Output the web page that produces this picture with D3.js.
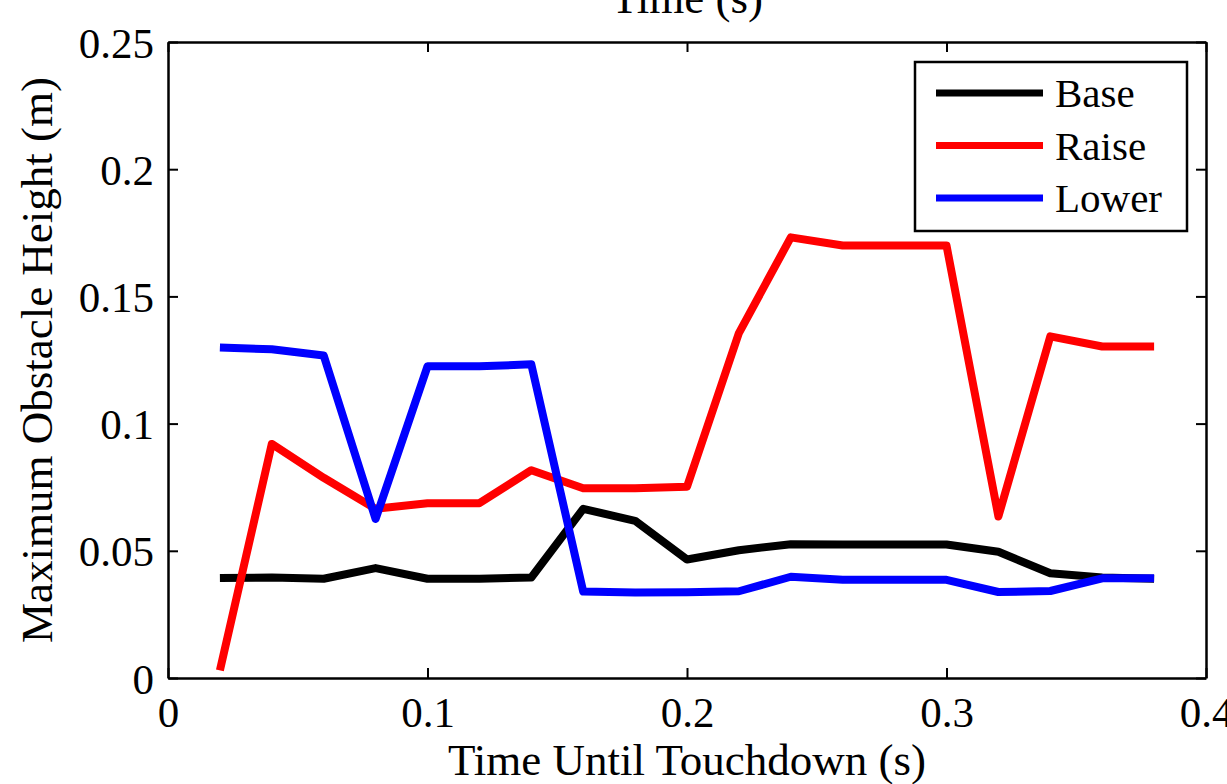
<!DOCTYPE html>
<html>
<head>
<meta charset="utf-8">
<script src="https://cdn.jsdelivr.net/npm/d3@7"></script>
<style>
  body { margin: 0; background: #fff; }
  svg { display: block; font-family: "Liberation Serif", "Times New Roman", serif; }
</style>
</head>
<body>
<div id="canvas"></div>
<script>
// data
const times = [0.02, 0.04, 0.06, 0.08, 0.10, 0.12, 0.14, 0.16, 0.18, 0.20,
               0.22, 0.24, 0.26, 0.28, 0.30, 0.32, 0.34, 0.36, 0.38];
const baseVals = [0.0393, 0.0395, 0.039, 0.0432, 0.039, 0.039, 0.0395, 0.0665, 0.0618, 0.0466,
                  0.0502, 0.0526, 0.0525, 0.0525, 0.0525, 0.0496, 0.0412, 0.0395, 0.039];
const raiseVals = [0.003, 0.092, 0.0787, 0.0665, 0.0687, 0.0687, 0.0817, 0.0746, 0.0746, 0.0752,
                   0.1356, 0.1732, 0.170, 0.170, 0.170, 0.0635, 0.1343, 0.1303, 0.1303];
const lowerVals = [0.1299, 0.1292, 0.1268, 0.0625, 0.1225, 0.1225, 0.1233, 0.034, 0.0336, 0.0337,
                   0.0341, 0.0398, 0.0386, 0.0386, 0.0386, 0.0338, 0.0342, 0.0392, 0.0392];
const seriesNames = ["Base", "Raise", "Lower"];
const seriesColors = ["#000000", "#ff0000", "#0000ff"];
const xTicks = [0, 0.1, 0.2, 0.3, 0.4];
const yTicks = [0, 0.05, 0.1, 0.15, 0.2, 0.25];

const width = 1227, height = 784;
const margin = { top: 42, left: 168, bottom: 106, right: 21 };
const iwidth = width - margin.left - margin.right;
const iheight = height - margin.top - margin.bottom;
const serif = '"Liberation Serif", "Times New Roman", serif';

const svg = d3.select("#canvas").append("svg")
  .attr("width", width)
  .attr("height", height);

const g = svg.append("g").attr("transform", `translate(${margin.left},${margin.top})`);

const x = d3.scaleLinear().domain([0, 0.4]).range([0, iwidth]);
const y = d3.scaleLinear().domain([0, 0.25]).range([iheight, 0]);

const fmt = d => d === 0 ? "0" : String(+d.toFixed(2));

// axes, ticks pointing inward, box closed on all sides
const axisStyle = sel => {
  sel.attr("font-family", serif);
  sel.select(".domain").attr("stroke", "#000").attr("stroke-width", 2.5);
  sel.selectAll(".tick line").attr("stroke", "#000").attr("stroke-width", 2);
  sel.selectAll(".tick text").attr("fill", "#000").style("font-size", "43px");
};

g.append("g")
  .attr("transform", `translate(0,${iheight})`)
  .call(d3.axisBottom(x).tickValues(xTicks).tickFormat(fmt).tickSizeInner(-10).tickSizeOuter(0).tickPadding(18))
  .call(axisStyle);

g.append("g")
  .call(d3.axisLeft(y).tickValues(yTicks).tickFormat(fmt).tickSizeInner(-10).tickSizeOuter(0).tickPadding(14))
  .call(axisStyle)
  .selectAll(".tick text").attr("dy", "0.35em");

g.append("g")
  .call(d3.axisTop(x).tickValues(xTicks).tickFormat("").tickSizeInner(-10).tickSizeOuter(0))
  .call(axisStyle);

g.append("g")
  .attr("transform", `translate(${iwidth},0)`)
  .call(d3.axisRight(y).tickValues(yTicks).tickFormat("").tickSizeInner(-10).tickSizeOuter(0))
  .call(axisStyle);

// lines
const allVals = [baseVals, raiseVals, lowerVals];
const line = d3.line()
  .x((d, i) => x(times[i]))
  .y(d => y(d));

allVals.forEach((vals, k) => {
  g.append("path")
    .datum(vals)
    .attr("fill", "none")
    .attr("stroke", seriesColors[k])
    .attr("stroke-width", 8)
    .attr("stroke-linejoin", "round")
    .attr("d", line);
});

// axis titles
svg.append("text")
  .attr("x", margin.left + iwidth / 2)
  .attr("y", 775)
  .attr("text-anchor", "middle")
  .style("font-size", "45px")
  .text("Time Until Touchdown (s)");

svg.append("text")
  .attr("transform", `translate(52,${margin.top + iheight / 2}) rotate(-90)`)
  .attr("text-anchor", "middle")
  .style("font-size", "45px")
  .text("Maximum Obstacle Height (m)");

svg.append("text")
  .attr("x", margin.left + iwidth / 2)
  .attr("y", 13)
  .attr("text-anchor", "middle")
  .style("font-size", "45px")
  .text("Time (s)");

// legend
const legend = svg.append("g").attr("transform", "translate(915,62)");
legend.append("rect")
  .attr("width", 272).attr("height", 169)
  .attr("fill", "#fff").attr("stroke", "#000").attr("stroke-width", 2.5);

seriesNames.forEach((name, k) => {
  const ly = 31 + k * 52.5;
  legend.append("line")
    .attr("x1", 21).attr("x2", 128)
    .attr("y1", ly).attr("y2", ly)
    .attr("stroke", seriesColors[k]).attr("stroke-width", 7);
  legend.append("text")
    .attr("x", 140).attr("y", ly + 14)
    .style("font-size", "41px")
    .text(name);
});
</script>
</body>
</html>
